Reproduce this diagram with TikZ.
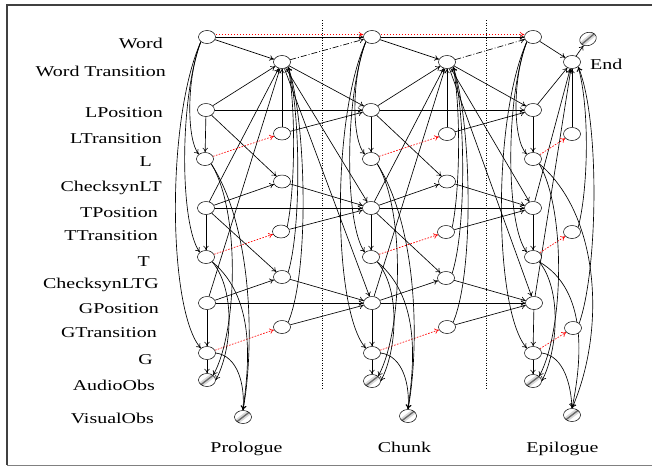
\documentclass[tikz,border=0pt]{standalone}
\usepackage{fontspec}
\setmainfont{Liberation Serif}[FakeStretch=1.33]
\usetikzlibrary{shapes.geometric,arrows.meta}
\pgfdeclarelayer{bg}
\pgfsetlayers{bg,main}
\begin{document}
\begin{tikzpicture}[x=1pt,y=-1pt,
  nd/.style={draw,ellipse,minimum width=17pt,minimum height=13pt,inner sep=0pt,line width=0.5pt,fill=white},
  ob/.style={nd,path picture={
     \draw[gray!30,line width=5pt] (path picture bounding box.south west) -- (path picture bounding box.north east);
     \draw[gray!85!black,line width=1.4pt] (path picture bounding box.south west) -- (path picture bounding box.north east);}},
  lab/.style={anchor=base east,inner sep=0pt,font=\fontsize{15}{18}\selectfont},
  ttl/.style={anchor=base,inner sep=0pt,font=\fontsize{15}{18}\selectfont},
  ar/.style={-{To[length=4.5pt,width=5.5pt]},line width=0.65pt},
  rd/.style={ar,red,dash pattern=on 1.6pt off 1.4pt},
  dd/.style={ar,dash pattern=on 6pt off 2pt on 1pt off 2pt},
  sep/.style={dash pattern=on 1pt off 1.5pt,line width=0.6pt},
]
\useasboundingbox (0,0) rectangle (652,466);
\draw[line width=1.2pt,gray!50!black] (652,5) -- (7,5) -- (7,465);
\draw[line width=0.8pt,gray] (7,465) -- (652,465);
% separators
\draw[sep] (322.5,20) -- (322.5,390);
\draw[sep] (486.5,20) -- (486.5,390);
% labels
\node[lab] (lw) at (163,48) {Word};
\node[lab] (lwt) at (166,76) {Word Transition};
\node[lab] (llp) at (163,117) {LPosition};
\node[lab] (llt) at (162,143) {LTransition};
\node[lab] (ll) at (152,166.5) {L};
\node[lab] (lclt) at (162,191) {ChecksynLT};
\node[lab] (ltp) at (158,217) {TPosition};
\node[lab] (ltt) at (158,240) {TTransition};
\node[lab] (lt) at (150,266) {T};
\node[lab] (lcltg) at (159,288) {ChecksynLTG};
\node[lab] (lgp) at (159,313) {GPosition};
\node[lab] (lgt) at (157,337) {GTransition};
\node[lab] (lg) at (153,364) {G};
\node[lab] (la) at (155,390) {AudioObs};
\node[lab] (lv) at (154,423) {VisualObs};
\node[ttl] (pro) at (246.5,452) {Prologue};
\node[ttl] (chu) at (404.5,452) {Chunk};
\node[ttl] (epi) at (562.5,452) {Epilogue};
\node[anchor=base west,inner sep=0pt,font=\fontsize{15}{18}\selectfont] (lend) at (590,69) {End};
% nodes: prologue
\node[nd] (w0) at (207,37) {};
\node[nd] (wt0) at (282,62) {};
\node[nd] (lp0) at (206,110) {};
\node[nd] (lt0) at (282,133.5) {};
\node[nd] (l0) at (205,159) {};
\node[nd] (clt0) at (282,181.5) {};
\node[nd] (tp0) at (206,208) {};
\node[nd] (tt0) at (281,231.5) {};
\node[nd] (t0) at (206,257) {};
\node[nd] (cltg0) at (282,277) {};
\node[nd] (gp0) at (207,303) {};
\node[nd] (gt0) at (282,327) {};
\node[nd] (g0) at (207,353) {};
\node[ob] (a0) at (207,380) {};
\node[ob] (v0) at (243,417) {};
% chunk
\node[nd] (w1) at (372,37) {};
\node[nd] (wt1) at (447,62) {};
\node[nd] (lp1) at (371,110) {};
\node[nd] (lt1) at (447,134) {};
\node[nd] (l1) at (371,159) {};
\node[nd] (clt1) at (447,181.5) {};
\node[nd] (tp1) at (371,208) {};
\node[nd] (tt1) at (446,232) {};
\node[nd] (t1) at (371,257) {};
\node[nd] (cltg1) at (446,278) {};
\node[nd] (gp1) at (372,303) {};
\node[nd] (gt1) at (447,327) {};
\node[nd] (g1) at (372,353) {};
\node[ob] (a1) at (372,381) {};
\node[ob] (v1) at (408,416) {};
% epilogue
\node[nd] (w2) at (533,37) {};
\node[nd] (wt2) at (572,62) {};
\node[ob,rotate=20] (eo) at (588,39) {};
\node[nd] (lp2) at (533,110) {};
\node[nd] (lt2) at (572,134) {};
\node[nd] (l2) at (533,159) {};
\node[nd] (tp2) at (533,208) {};
\node[nd] (tt2) at (572,232) {};
\node[nd] (t2) at (533,257) {};
\node[nd] (gp2) at (534,303) {};
\node[nd] (gt2) at (573,328) {};
\node[nd] (g2) at (533,353) {};
\node[ob] (a2) at (533,381) {};
\node[ob] (v2) at (572,415) {};
\begin{pgfonlayer}{bg}
% common intra-slice edges
\foreach \i/\dx in {0/0,1/165,2/326}{
  \draw[ar] (w\i) -- (wt\i);
  \draw[ar] (lp\i) -- (wt\i);
  \draw[ar] (tp\i) -- (wt\i);
  \draw[ar] (gp\i) -- (wt\i);
  \draw[ar] (lt\i) -- (wt\i);
  \draw[ar] (lp\i) -- (l\i);
  \draw[ar] (tp\i) -- (t\i);
  \draw[ar] (gp\i) -- (g\i);
  \draw[ar] (g\i) -- (a\i);
  \draw[rd] (l\i) -- (lt\i);
  \draw[rd] (t\i) -- (tt\i);
  \draw[rd] (g\i) -- (gt\i);
  \draw[ar] (w\i.south west) .. controls ({\dx+186},80) and ({\dx+187},140) .. (l\i.north west);
  \draw[ar] (w\i.south west) .. controls ({\dx+179},100) and ({\dx+180},225) .. (t\i.north west);
  \draw[ar] (w\i.south west) .. controls ({\dx+166},120) and ({\dx+168},310) .. (g\i.north west);
  \draw[ar] (l\i.south east) .. controls ({\dx+240},210) and ({\dx+238},330) .. (a\i.north east);
  \draw[ar] (t\i.south east) .. controls ({\dx+236},290) and ({\dx+232},350) .. (a\i.east);
  \draw[ar] (g\i.east) .. controls ({\dx+238},356) and ({\dx+245},385) .. (v\i.north);
}
\foreach \i/\dx in {0/0,1/165}{
  \draw[ar] (l\i.south east) .. controls ({\dx+254},230) and ({\dx+254},350) .. (v\i.north);
  \draw[ar] (t\i.south east) .. controls ({\dx+258},300) and ({\dx+248},370) .. (v\i.north);
  \draw[ar] (lp\i) -- (clt\i);
  \draw[ar] (tp\i) -- (clt\i);
  \draw[ar] (tp\i) -- (cltg\i);
  \draw[ar] (gp\i) -- (cltg\i);
  \draw[ar] (tt\i.north east) .. controls ({\dx+295},190) and ({\dx+296},110) .. (wt\i.south east);
  \draw[ar] (cltg\i.north east) .. controls ({\dx+301},230) and ({\dx+301},115) .. (wt\i.south east);
  \draw[ar] (gt\i.north east) .. controls ({\dx+310},270) and ({\dx+306},120) .. (wt\i.south east);
}
\draw[ar] (l2.south east) .. controls (600,215) and (606,330) .. (v2.north);
\draw[ar] (t2.south east) .. controls (588,290) and (582,360) .. (v2.north);
\draw[ar] (tt2.north east) .. controls (588,190) and (590,110) .. (wt2.south east);
\draw[ar] (gt2.north east) .. controls (598,270) and (600,120) .. (wt2.south east);
\draw[ar] (wt2) -- (eo);
% inter-slice edges
\foreach \i/\j in {0/1,1/2}{
  \draw[ar,line width=0.5pt] (w\i) -- (w\j);
  \draw[rd] ([yshift=2.5pt]w\i.east) -- ([yshift=2.5pt]w\j.west);
  \draw[dd] (wt\i) -- (w\j);
  \draw[ar] (wt\i) -- (lp\j);
  \draw[ar] (wt\i) -- (tp\j);
  \draw[ar] (wt\i) -- (gp\j);
  \draw[ar,line width=0.5pt] (lp\i) -- (lp\j);
  \draw[ar,line width=0.5pt] (tp\i) -- (tp\j);
  \draw[ar,line width=0.5pt] (gp\i) -- (gp\j);
  \draw[ar] (lt\i) -- (lp\j);
  \draw[ar] (tt\i) -- (tp\j);
  \draw[ar] (gt\i) -- (gp\j);
  \draw[ar] (clt\i) -- (tp\j);
  \draw[ar] (cltg\i) -- (gp\j);
}
\end{pgfonlayer}
\end{tikzpicture}
\end{document}
